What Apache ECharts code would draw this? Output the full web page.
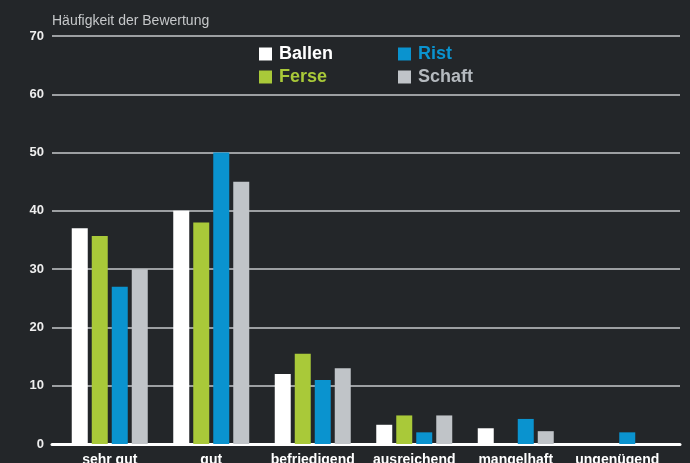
<!DOCTYPE html>
<html>
<head>
<meta charset="utf-8">
<script src="https://cdn.jsdelivr.net/npm/echarts@6/dist/echarts.min.js"></script>
<style>
  html, body { margin: 0; padding: 0; background: #232629; }
  #chart { width: 690px; height: 463px; }
</style>
</head>
<body>
<div id="chart"></div>
<script>
// Kategorien und Werte
var categories = ['sehr gut', 'gut', 'befriedigend', 'ausreichend', 'mangelhaft', 'ungenügend'];
var ballen = [37, 40, 12, 3.3, 2.7, 0];
var ferse = [35.7, 38, 15.5, 4.9, 0, 0];
var rist = [27, 50, 11, 2, 4.3, 2];
var schaft = [30, 45, 13, 4.9, 2.2, 0];
var yTicks = { min: 0, max: 70, step: 10 };

var chart = echarts.init(document.getElementById('chart'));

var font = '"Liberation Sans", Arial, sans-serif';

function bar(name, data, color) {
    return {
        name: name,
        type: 'bar',
        xAxisIndex: 1,
        yAxisIndex: 1,
        data: data,
        barWidth: 16,
        barGap: '25%',
        itemStyle: { color: color }
    };
}

function legendCol(left, items) {
    return {
        orient: 'vertical',
        left: left,
        top: 45,
        padding: 0,
        itemWidth: 13,
        itemHeight: 13,
        itemGap: 5,
        icon: 'rect',
        textStyle: { fontSize: 18, fontWeight: 'bold', fontFamily: font, padding: [0, 0, 0, 2] },
        data: items
    };
}

chart.setOption({
    backgroundColor: '#232629',
    animation: false,
    textStyle: { fontFamily: font },
    title: {
        text: 'Häufigkeit der Bewertung',
        left: 52,
        top: 14,
        padding: 0,
        textStyle: { color: '#c6c8ca', fontSize: 14, fontWeight: 'normal', fontFamily: font }
    },
    // zwei Legendenspalten
    legend: [
        legendCol(259, [
            { name: 'Ballen', textStyle: { color: '#ffffff' } },
            { name: 'Ferse', textStyle: { color: '#a9c939' } }
        ]),
        legendCol(398, [
            { name: 'Rist', textStyle: { color: '#0a93cf' } },
            { name: 'Schaft', textStyle: { color: '#b5babf' } }
        ])
    ],
    grid: [
        { left: 52, right: 10, top: 36, bottom: 19, outerBoundsMode: 'none' },
        { left: 59, right: 22, top: 36, bottom: 19, outerBoundsMode: 'none' }
    ],
    xAxis: [
        {
            type: 'value',
            gridIndex: 0,
            min: 0,
            max: 1,
            axisLabel: { show: false },
            axisTick: { show: false },
            splitLine: { show: false },
            axisLine: { show: true, lineStyle: { color: '#ffffff', width: 3 } }
        },
        {
            type: 'category',
            gridIndex: 1,
            data: categories,
            axisLine: { show: false },
            axisTick: { show: false },
            axisLabel: { interval: 0, color: '#ffffff', fontSize: 14, fontWeight: 'bold', margin: 9, fontFamily: font }
        }
    ],
    yAxis: [
        {
            type: 'value',
            gridIndex: 0,
            min: yTicks.min,
            max: yTicks.max,
            interval: yTicks.step,
            axisLine: { show: false },
            axisTick: { show: false },
            axisLabel: { color: '#eeeeee', fontSize: 13, fontWeight: 'bold', margin: 8, fontFamily: font },
            splitLine: { lineStyle: { color: '#9c9fa2', width: 2 } }
        },
        {
            type: 'value',
            gridIndex: 1,
            min: yTicks.min,
            max: yTicks.max,
            show: false,
            splitLine: { show: false }
        }
    ],
    series: [
        bar('Ballen', ballen, '#ffffff'),
        bar('Ferse', ferse, '#a9c939'),
        bar('Rist', rist, '#0a93cf'),
        bar('Schaft', schaft, '#c0c4c8')
    ]
});
</script>
</body>
</html>
